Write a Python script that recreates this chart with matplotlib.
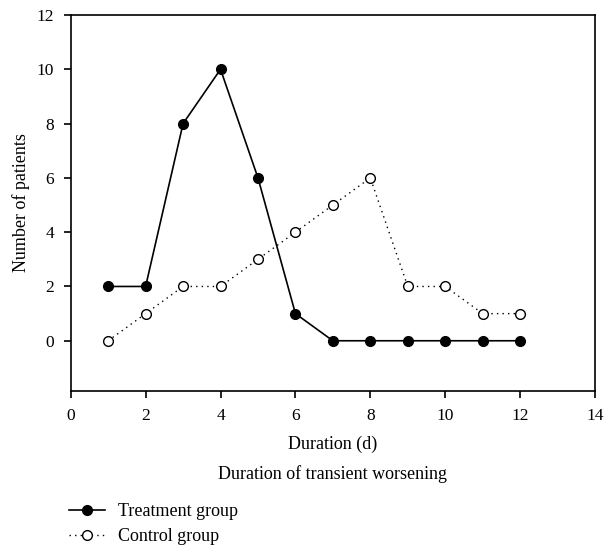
import matplotlib
matplotlib.use("Agg")
import matplotlib.pyplot as plt
from matplotlib.lines import Line2D

plt.rcParams['font.family'] = ['Liberation Serif', 'DejaVu Serif']

days = [1, 2, 3, 4, 5, 6, 7, 8, 9, 10, 11, 12]
treatment = [2, 2, 8, 10, 6, 1, 0, 0, 0, 0, 0, 0]
control = [0, 1, 2, 2, 3, 4, 5, 6, 2, 2, 1, 1]
xticks = [0, 2, 4, 6, 8, 10, 12, 14]
yticks = [0, 2, 4, 6, 8, 10, 12]

fig = plt.figure(figsize=(6.05, 5.45), dpi=100)
ax = fig.add_axes([0.1169, 0.2826, 0.8666, 0.6899])

ax.plot(days, treatment, color='black', lw=1.2, marker='o', ms=7,
        mfc='black', mec='black', label='Treatment group')
ax.plot(days, control, color='black', lw=1.0, ls=(0, (1, 3)), marker='o', ms=7,
        mfc='white', mec='black', mew=1.0, label='Control group')

ax.set_xlim(0, 14)
ax.set_ylim(-1.85, 12)
ax.set_xticks(xticks)
ax.set_yticks(yticks)
ax.tick_params(direction='out', length=5, width=1.2, labelsize=12.5, pad=7)
for s in ax.spines.values():
    s.set_linewidth(1.2)

ax.set_ylabel('Number of patients', fontsize=13, labelpad=5)
ax.set_xlabel('Duration (d)', fontsize=13, labelpad=8.5)
fig.text(0.549, 0.130, 'Duration of transient worsening', ha='center', va='center', fontsize=13)

handles = [
    Line2D([], [], color='black', lw=1.2, marker='o', ms=7, mfc='black', mec='black'),
    Line2D([], [], color='black', lw=1.0, ls=(0, (1, 3)), marker='o', ms=7, mfc='white', mec='black'),
]
fig.legend(handles, ['Treatment group', 'Control group'], loc='upper left',
           bbox_to_anchor=(0.114, 0.077), frameon=False, fontsize=13,
           handlelength=2.0, labelspacing=0.45, handletextpad=0.72,
           borderaxespad=0, borderpad=0)

fig.savefig('out.png', dpi=100)
